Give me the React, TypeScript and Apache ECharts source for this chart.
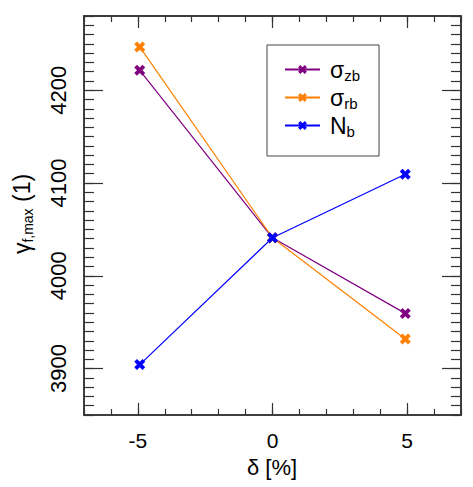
import React, { useEffect, useRef } from "react";
import * as echarts from "echarts";

const xValues = [-4.93, 0, 4.93];
const sigmaZb = [4221.5, 4041, 3959.5];
const sigmaRb = [4246.7, 4041, 3931.8];
const nB = [3904.3, 4041, 4109.4];
const xMajorTicks = [-5, 0, 5];
const yMajorTicks = [3900, 4000, 4100, 4200];
const seriesNames = ["σzb", "σrb", "Nb"];
const legendRich = ["{m|σ}{s|zb}", "{m|σ}{s|rb}", "{m|N}{s|b}"];
const colors = ["#800080", "#ff8000", "#0000ff"];

const XMARK =
  "path://M0,3 L3,0 L6,3 L9,0 L12,3 L9,6 L12,9 L9,12 L6,9 L3,12 L0,9 L3,6 Z";

export default function App() {
  const ref = useRef<HTMLDivElement>(null);
  useEffect(() => {
    if (!ref.current) return;
    document.body.style.margin = "0";
    const chart = echarts.init(ref.current, null, { renderer: "svg" });
    const font = "Liberation Sans";
    const axisColor = "#333";
    const xMin = -7, xMax = 7, yMin = 3850, yMax = 4280;
    const mkX = (pos: "bottom" | "top", major: boolean) => ({
      type: "value",
      position: pos,
      min: xMin,
      max: xMax,
      interval: 1,
      axisLine: { show: true, onZero: false, lineStyle: { color: axisColor, width: 1.5 } },
      axisTick: major
        ? { show: true, inside: true, length: 12, customValues: xMajorTicks, lineStyle: { color: axisColor, width: 1.2 } }
        : { show: true, inside: true, length: 6, lineStyle: { color: axisColor, width: 1.2 } },
      axisLabel:
        major && pos === "bottom"
          ? { show: true, customValues: xMajorTicks, margin: 15, fontSize: 21, color: "#000", fontFamily: font, formatter: (v: number) => String(v) }
          : { show: false },
      splitLine: { show: false },
    });
    const mkY = (pos: "left" | "right", major: boolean) => ({
      type: "value",
      position: pos,
      min: yMin,
      max: yMax,
      interval: 10,
      axisLine: { show: true, onZero: false, lineStyle: { color: axisColor, width: 1.5 } },
      axisTick: major
        ? { show: true, inside: true, length: 19, customValues: yMajorTicks, lineStyle: { color: axisColor, width: 1.2 } }
        : { show: true, inside: true, length: 10, lineStyle: { color: axisColor, width: 1.2 } },
      axisLabel:
        major && pos === "left"
          ? { show: true, customValues: yMajorTicks, rotate: 90, margin: 15, fontSize: 22, color: "#000", fontFamily: font, formatter: (v: number) => String(v) }
          : { show: false },
      splitLine: { show: false },
    });
    const data = [sigmaZb, sigmaRb, nB];
    chart.setOption({
      animation: false,
      backgroundColor: "#fff",
      grid: { left: 84, right: 12, top: 16, bottom: 72 },
      xAxis: [mkX("bottom", true), mkX("bottom", false), mkX("top", true), mkX("top", false)],
      yAxis: [mkY("left", true), mkY("left", false), mkY("right", true), mkY("right", false)],
      legend: {
        left: 267,
        top: 45,
        orient: "vertical",
        borderColor: "#444",
        borderWidth: 1,
        padding: [13, 19, 17, 17],
        itemWidth: 35,
        itemHeight: 11,
        itemGap: 3,
        data: seriesNames,
        formatter: (name: string) => legendRich[seriesNames.indexOf(name)],
        textStyle: {
          fontFamily: font,
          color: "#000",
          rich: {
            m: { fontSize: 23, fontFamily: font, color: "#000", lineHeight: 26, padding: [0, 0, 0, 5] },
            s: { fontSize: 15, fontFamily: font, color: "#000", padding: [12, 0, 0, 0] },
          },
        },
      },
      graphic: [
        {
          type: "text",
          x: 22,
          y: 214,
          rotation: Math.PI / 2,
          style: {
            text: "{g|γ}{s|f,max}{g| (1)}",
            align: "center",
            verticalAlign: "middle",
            rich: {
              g: { fontSize: 23, fontFamily: font, fill: "#000" },
              s: { fontSize: 14, fontFamily: font, fill: "#000", padding: [12, 0, 0, 0] },
            },
          },
        },
        {
          type: "text",
          x: 272,
          y: 467,
          style: {
            text: "δ [%]",
            align: "center",
            verticalAlign: "middle",
            fontSize: 22,
            fontFamily: font,
            fill: "#000",
          },
        },
      ],
      series: data.map((vals, i) => ({
        name: seriesNames[i],
        type: "line",
        xAxisIndex: 0,
        yAxisIndex: 0,
        data: xValues.map((x, j) => [x, vals[j]]),
        symbol: XMARK,
        symbolSize: 11,
        color: colors[i],
        itemStyle: { color: colors[i] },
        lineStyle: { color: colors[i], width: 1.2 },
      })),
    });
    return () => chart.dispose();
  }, []);
  return <div ref={ref} style={{ width: 473, height: 487 }} />;
}
